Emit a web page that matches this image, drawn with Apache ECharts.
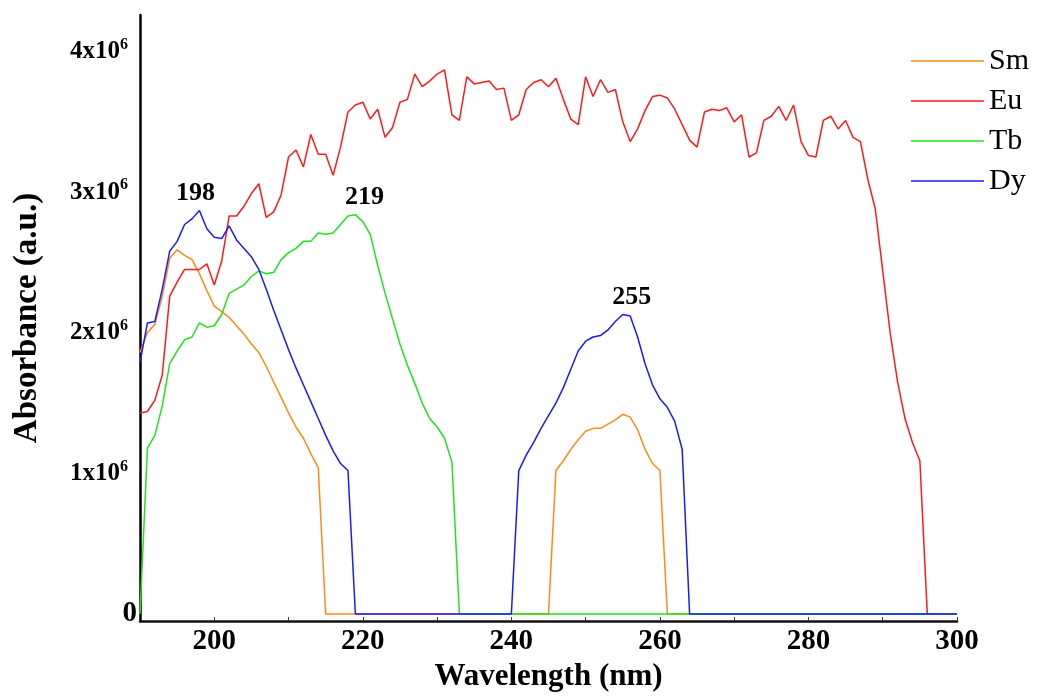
<!DOCTYPE html>
<html>
<head>
<meta charset="utf-8">
<title>Absorbance spectra</title>
<script src="https://cdn.jsdelivr.net/npm/echarts@6/dist/echarts.min.js"></script>
<style>
  html, body { margin: 0; padding: 0; background: #fff; }
  #chart { width: 1038px; height: 697px; }
</style>
</head>
<body>
<div id="chart"></div>
<script>
// Wavelength grid (nm), one reading per nanometre from 190 to 300
const wavelengths = [];
for (let w = 190; w <= 300; w++) wavelengths.push(w);

// Absorbance in units of 10^6 (a.u.), ten readings per row
const sm = [
  1.86, 2.00, 2.06, 2.26, 2.53, 2.59, 2.55, 2.52, 2.42, 2.30,   // 190-199
  2.19, 2.15, 2.11, 2.05, 1.99, 1.92, 1.86, 1.76, 1.65, 1.54,   // 200-209
  1.43, 1.33, 1.25, 1.14, 1.04, 0, 0, 0, 0, 0,                  // 210-219
  0, 0, 0, 0, 0, 0, 0, 0, 0, 0,                                 // 220-229
  0, 0, 0, 0, 0, 0, 0, 0, 0, 0,                                 // 230-239
  0, 0, 0, 0, 0, 0, 1.02, 1.09, 1.17, 1.24,                     // 240-249
  1.30, 1.32, 1.32, 1.35, 1.38, 1.42, 1.40, 1.31, 1.17, 1.07,   // 250-259
  1.02, 0, 0, 0, 0, 0, 0, 0, 0, 0,                              // 260-269
  0, 0, 0, 0, 0, 0, 0, 0, 0, 0,                                 // 270-279
  0, 0, 0, 0, 0, 0, 0, 0, 0, 0,                                 // 280-289
  0, 0, 0, 0, 0, 0, 0, 0, 0, 0,                                 // 290-299
  0                                                             // 300
];
const eu = [
  1.43, 1.44, 1.52, 1.70, 2.26, 2.36, 2.45, 2.45, 2.45, 2.49,
  2.34, 2.51, 2.83, 2.83, 2.90, 2.99, 3.06, 2.82, 2.86, 2.98,
  3.25, 3.30, 3.18, 3.41, 3.27, 3.27, 3.12, 3.32, 3.57, 3.62,
  3.64, 3.52, 3.59, 3.39, 3.46, 3.64, 3.66, 3.84, 3.75, 3.79,
  3.84, 3.87, 3.55, 3.51, 3.82, 3.77, 3.78, 3.79, 3.73, 3.74,
  3.51, 3.55, 3.73, 3.78, 3.80, 3.75, 3.81, 3.66, 3.52, 3.48,
  3.82, 3.68, 3.80, 3.71, 3.73, 3.50, 3.36, 3.45, 3.58, 3.68,
  3.69, 3.67, 3.59, 3.48, 3.37, 3.32, 3.57, 3.59, 3.58, 3.60,
  3.50, 3.55, 3.25, 3.28, 3.51, 3.54, 3.61, 3.51, 3.62, 3.36,
  3.26, 3.25, 3.51, 3.54, 3.45, 3.51, 3.39, 3.36, 3.09, 2.88,
  2.44, 2.00, 1.65, 1.39, 1.22, 1.09, 0, 0, 0, 0,
  0
];
const tb = [
  0, 1.18, 1.27, 1.48, 1.78, 1.87, 1.95, 1.97, 2.07, 2.04,
  2.05, 2.13, 2.28, 2.31, 2.34, 2.40, 2.44, 2.42, 2.43, 2.52,
  2.57, 2.60, 2.65, 2.65, 2.71, 2.70, 2.71, 2.77, 2.83, 2.84,
  2.79, 2.70, 2.48, 2.28, 2.10, 1.92, 1.77, 1.64, 1.50, 1.39,
  1.33, 1.25, 1.08, 0, 0, 0, 0, 0, 0, 0,
  0, 0, 0, 0, 0, 0, 0, 0, 0, 0,
  0, 0, 0, 0, 0, 0, 0, 0, 0, 0,
  0, 0, 0, 0, 0, 0, 0, 0, 0, 0,
  0, 0, 0, 0, 0, 0, 0, 0, 0, 0,
  0, 0, 0, 0, 0, 0, 0, 0, 0, 0,
  0, 0, 0, 0, 0, 0, 0, 0, 0, 0,
  0
];
const dy = [
  1.79, 2.07, 2.08, 2.31, 2.58, 2.65, 2.77, 2.81, 2.87, 2.74,   // 190-199
  2.68, 2.67, 2.76, 2.66, 2.60, 2.54, 2.45, 2.31, 2.16, 2.02,   // 200-209
  1.88, 1.75, 1.63, 1.51, 1.39, 1.27, 1.16, 1.07, 1.02, 0,      // 210-219
  0, 0, 0, 0, 0, 0, 0, 0, 0, 0,                                 // 220-229
  0, 0, 0, 0, 0, 0, 0, 0, 0, 0,                                 // 230-239
  0, 1.02, 1.13, 1.22, 1.32, 1.41, 1.50, 1.61, 1.74, 1.87,      // 240-249
  1.94, 1.97, 1.98, 2.02, 2.08, 2.13, 2.12, 1.97, 1.78, 1.63,   // 250-259
  1.53, 1.47, 1.37, 1.17, 0, 0, 0, 0, 0, 0,                     // 260-269
  0, 0, 0, 0, 0, 0, 0, 0, 0, 0,                                 // 270-279
  0, 0, 0, 0, 0, 0, 0, 0, 0, 0,                                 // 280-289
  0, 0, 0, 0, 0, 0, 0, 0, 0, 0,                                 // 290-299
  0                                                             // 300
];

// Peak annotations: which series carries the label, and at which wavelength
const peakSeries = ['Dy', 'Tb', 'Dy'];
const peakWavelengths = [198, 219, 255];
const peakOffsets = [[-4, 0], [9, 0], [9, 0]];

const seriesNames = ['Sm', 'Eu', 'Tb', 'Dy'];
const seriesValues = [sm, eu, tb, dy];
const seriesColors = ['#ff8a14', '#ff1a1a', '#1ee41e', '#1a1aff'];

const FONT = '"Liberation Serif", "Times New Roman", serif';

function pairs(values) {
  return values.map(function (v, i) { return [wavelengths[i], v]; });
}

function peakMarks(name, values) {
  const marks = [];
  for (let k = 0; k < peakWavelengths.length; k++) {
    if (peakSeries[k] !== name) continue;
    const idx = wavelengths.indexOf(peakWavelengths[k]);
    marks.push({
      coord: [peakWavelengths[k], values[idx]],
      label: {
        show: true,
        position: 'top',
        distance: 4,
        offset: peakOffsets[k],
        formatter: String(peakWavelengths[k]),
        fontFamily: FONT,
        fontWeight: 'bold',
        fontSize: 26,
        color: '#000'
      }
    });
  }
  return marks;
}

const chart = echarts.init(document.getElementById('chart'), null, { renderer: 'canvas' });

chart.setOption({
  animation: false,
  backgroundColor: '#ffffff',
  grid: { left: 140, right: 81, top: 15, bottom: 74, containLabel: false },
  legend: {
    orient: 'vertical',
    left: 906,
    top: 41,
    icon: 'rect',
    itemWidth: 73,
    itemHeight: 1.6,
    itemGap: 10,
    data: seriesNames,
    textStyle: { fontFamily: FONT, fontSize: 30, lineHeight: 30, color: '#000' }
  },
  xAxis: {
    type: 'value',
    min: 190,
    max: 300,
    interval: 10,
    name: 'Wavelength (nm)',
    nameLocation: 'middle',
    nameGap: 40,
    nameTextStyle: { fontFamily: FONT, fontWeight: 'bold', fontSize: 31, color: '#000' },
    axisLine: { onZero: false, lineStyle: { color: '#111', width: 2.5 } },
    axisTick: { show: true, inside: true, length: 4, lineStyle: { color: '#333', width: 1 } },
    splitLine: { show: false },
    axisLabel: {
      margin: 6,
      fontFamily: FONT,
      fontWeight: 'bold',
      fontSize: 29,
      color: '#000',
      showMinLabel: false,
      formatter: function (v) { return (v % 20 === 0) ? String(v) : ''; }
    }
  },
  yAxis: {
    type: 'value',
    min: -0.05,
    max: 4.26,
    splitNumber: 5,
    name: 'Absorbance (a.u.)',
    nameLocation: 'middle',
    nameGap: 96,
    nameTextStyle: { fontFamily: FONT, fontWeight: 'bold', fontSize: 33, color: '#000' },
    axisLine: { show: true, onZero: false, lineStyle: { color: '#000', width: 2.5 } },
    axisTick: { show: false },
    splitLine: { show: false },
    axisLabel: {
      margin: 3,
      showMinLabel: false,
      showMaxLabel: false,
      formatter: function (v) {
        const r = Math.round(v);
        if (Math.abs(v - r) > 1e-6) return '';
        if (r === 0) return '{z|0}';
        return '{b|' + r + 'x10}{s|6}';
      },
      rich: {
        z: { fontFamily: FONT, fontWeight: 'bold', fontSize: 29, color: '#000', lineHeight: 30 },
        b: { fontFamily: FONT, fontWeight: 'bold', fontSize: 25, color: '#000', lineHeight: 30 },
        s: { fontFamily: FONT, fontWeight: 'bold', fontSize: 16, color: '#000', lineHeight: 30,
             verticalAlign: 'top', padding: [0, 9, 0, 0] }
      }
    }
  },
  series: seriesNames.map(function (name, i) {
    const marks = peakMarks(name, seriesValues[i]);
    return {
      name: name,
      type: 'line',
      data: pairs(seriesValues[i]),
      symbol: 'none',
      showSymbol: false,
      smooth: false,
      color: seriesColors[i],
      lineStyle: { color: seriesColors[i], width: 1.5 },
      z: 2 + i,
      markPoint: marks.length ? {
        symbol: 'circle',
        symbolSize: 1,
        itemStyle: { color: 'rgba(0,0,0,0)' },
        data: marks
      } : undefined
    };
  })
});
</script>
</body>
</html>
